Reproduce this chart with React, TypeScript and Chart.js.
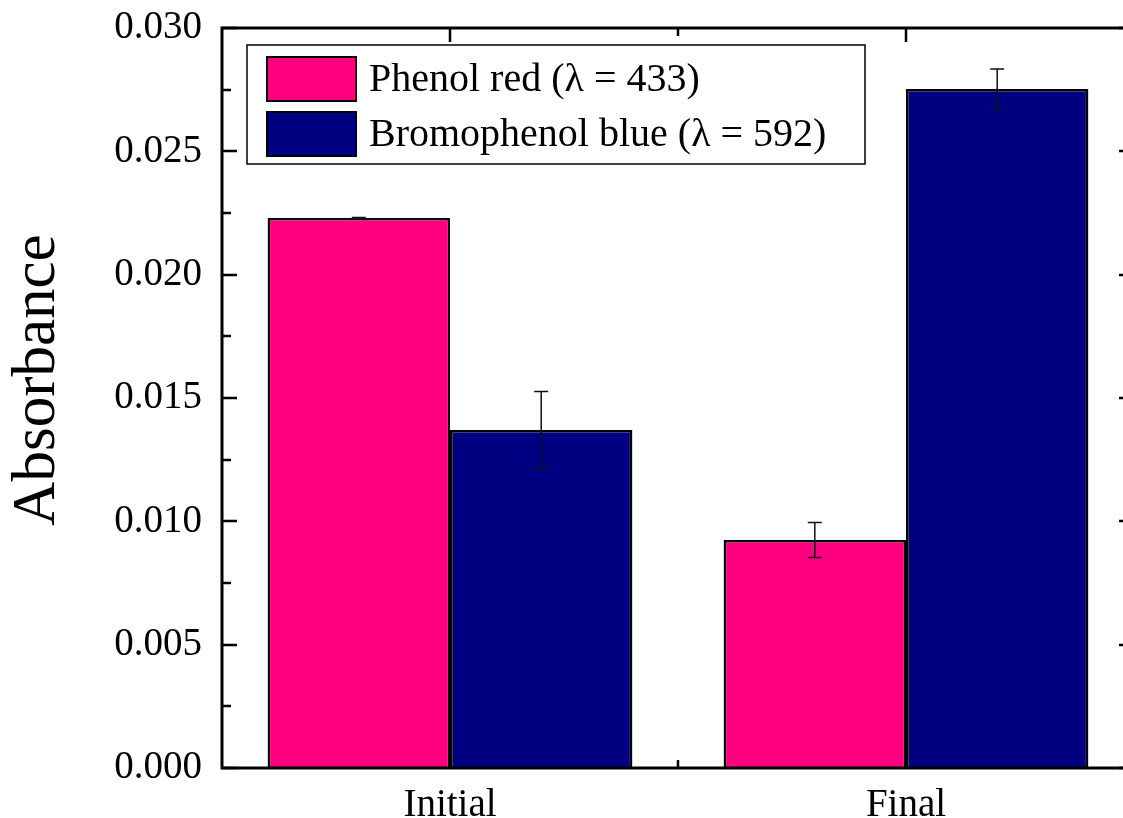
import React, { useEffect, useRef } from "react";
import { Chart, registerables } from "chart.js";
Chart.register(...registerables);

const categories = ["Initial", "Final"];
const seriesLabels = ["Phenol red (λ = 433)", "Bromophenol blue (λ = 592)"];
const phenolRed = [0.0223, 0.00924];
const phenolRedErr = [0.00002, 0.00071];
const bromophenolBlue = [0.0137, 0.02753];
const bromophenolBlueErr = [0.00156, 0.00081];
const seriesColors = ["#FF0080", "#000080"];
const yMin = 0;
const yMax = 0.03;
const yStep = 0.005;
const yTitle = "Absorbance";

const FONT = '"Liberation Serif", "Times New Roman", serif';
const CANVAS_W = 1160;
const CANVAS_H = 818;

const framePlugin = {
  id: "frame",
  afterDatasetsDraw(chart: any) {
    const ctx = chart.ctx;
    const { left, right, top, bottom } = chart.chartArea;
    const ys = chart.scales.y;
    const xs = chart.scales.x;
    ctx.save();
    // error bars
    const errs = [phenolRedErr, bromophenolBlueErr];
    chart.data.datasets.forEach((ds: any, di: number) => {
      const meta = chart.getDatasetMeta(di);
      meta.data.forEach((bar: any, i: number) => {
        const v = ds.data[i];
        const e = errs[di][i];
        const yTop = ys.getPixelForValue(v + e);
        const yBot = ys.getPixelForValue(v - e);
        const x = bar.x;
        ctx.strokeStyle = "#111";
        ctx.lineWidth = 1.5;
        ctx.beginPath();
        ctx.moveTo(x, yTop);
        ctx.lineTo(x, yBot);
        ctx.moveTo(x - 7, yTop);
        ctx.lineTo(x + 7, yTop);
        ctx.moveTo(x - 7, yBot);
        ctx.lineTo(x + 7, yBot);
        ctx.stroke();
      });
    });
    // ticks
    ctx.strokeStyle = "#000";
    ctx.lineWidth = 2.5;
    ctx.beginPath();
    for (let v = yMin; v <= yMax + 1e-9; v += yStep / 2) {
      const y = Math.round(ys.getPixelForValue(v));
      const major = Math.abs(v / yStep - Math.round(v / yStep)) < 1e-6;
      const len = major ? 15 : 9;
      ctx.moveTo(left, y);
      ctx.lineTo(left + len, y);
      ctx.moveTo(right, y);
      ctx.lineTo(right - len, y);
    }
    const centers = categories.map((_, i) => xs.getPixelForTick(i));
    centers.forEach((cx: number) => {
      ctx.moveTo(cx, top);
      ctx.lineTo(cx, top + 14);
      ctx.moveTo(cx, bottom);
      ctx.lineTo(cx, bottom - 14);
    });
    for (let i = 0; i < centers.length - 1; i++) {
      const mx = (centers[i] + centers[i + 1]) / 2;
      ctx.moveTo(mx, top);
      ctx.lineTo(mx, top + 8);
      ctx.moveTo(mx, bottom);
      ctx.lineTo(mx, bottom - 8);
    }
    ctx.stroke();
    // frame
    ctx.lineWidth = 3;
    ctx.strokeRect(left, top, right - left, bottom - top);
    // legend
    const lx = left + 25;
    const ly = top + 17;
    const lw = 618;
    const lh = 119;
    ctx.fillStyle = "#fff";
    ctx.fillRect(lx, ly, lw, lh);
    ctx.lineWidth = 1.5;
    ctx.strokeStyle = "#000";
    ctx.strokeRect(lx, ly, lw, lh);
    ctx.font = `40px ${FONT}`;
    ctx.textBaseline = "middle";
    ctx.textAlign = "left";
    seriesLabels.forEach((lab, i) => {
      const sy = ly + 12 + i * 55;
      ctx.fillStyle = seriesColors[i];
      ctx.fillRect(lx + 20, sy, 89, 44);
      ctx.lineWidth = 2;
      ctx.strokeRect(lx + 20, sy, 89, 44);
      ctx.fillStyle = "#000";
      ctx.fillText(lab, lx + 122, sy + 23);
    });
    // y title
    ctx.save();
    ctx.translate(38, 380);
    ctx.rotate(-Math.PI / 2);
    ctx.textAlign = "center";
    ctx.textBaseline = "middle";
    ctx.font = `61px ${FONT}`;
    ctx.fillStyle = "#000";
    ctx.fillText(yTitle, 0, 0);
    ctx.restore();
    ctx.restore();
  },
};

export default function App() {
  const ref = useRef<HTMLCanvasElement>(null);
  useEffect(() => {
    if (!ref.current) return;
    const chart = new Chart(ref.current, {
      type: "bar",
      data: {
        labels: categories,
        datasets: [
          {
            label: seriesLabels[0],
            data: phenolRed,
            backgroundColor: seriesColors[0],
            borderColor: "#000",
            borderWidth: 2.5,
            categoryPercentage: 0.8,
            barPercentage: 1,
          },
          {
            label: seriesLabels[1],
            data: bromophenolBlue,
            backgroundColor: seriesColors[1],
            borderColor: "#000",
            borderWidth: 2.5,
            categoryPercentage: 0.8,
            barPercentage: 1,
          },
        ],
      },
      options: {
        animation: false,
        responsive: false,
        maintainAspectRatio: false,
        devicePixelRatio: 1,
        layout: { padding: { top: 28, right: CANVAS_W - 1134, left: 0, bottom: 0 } },
        plugins: { legend: { display: false }, tooltip: { enabled: false } },
        scales: {
          x: {
            grid: { display: false, drawTicks: false },
            border: { display: false },
            ticks: { color: "#000", font: { family: FONT, size: 39 }, padding: 14 },
            afterFit: (s: any) => {
              s.height = 50;
              s.paddingLeft = 0;
              s.paddingRight = 0;
            },
          },
          y: {
            min: yMin,
            max: yMax,
            grid: { display: false, drawTicks: false },
            border: { display: false },
            ticks: {
              stepSize: yStep,
              color: "#000",
              font: { family: FONT, size: 39 },
              padding: 20,
              callback: (v: any) => Number(v).toFixed(3),
            },
            afterFit: (s: any) => {
              s.width = 222;
              s.paddingTop = 0;
              s.paddingBottom = 0;
            },
          },
        },
      },
      plugins: [framePlugin],
    });
    return () => chart.destroy();
  }, []);
  return (
    <div style={{ position: "fixed", left: 0, top: 0, width: 1123, height: 818, overflow: "hidden", background: "#fff" }}>
      <canvas ref={ref} width={CANVAS_W} height={CANVAS_H} style={{ width: CANVAS_W, height: CANVAS_H, display: "block" }} />
    </div>
  );
}
